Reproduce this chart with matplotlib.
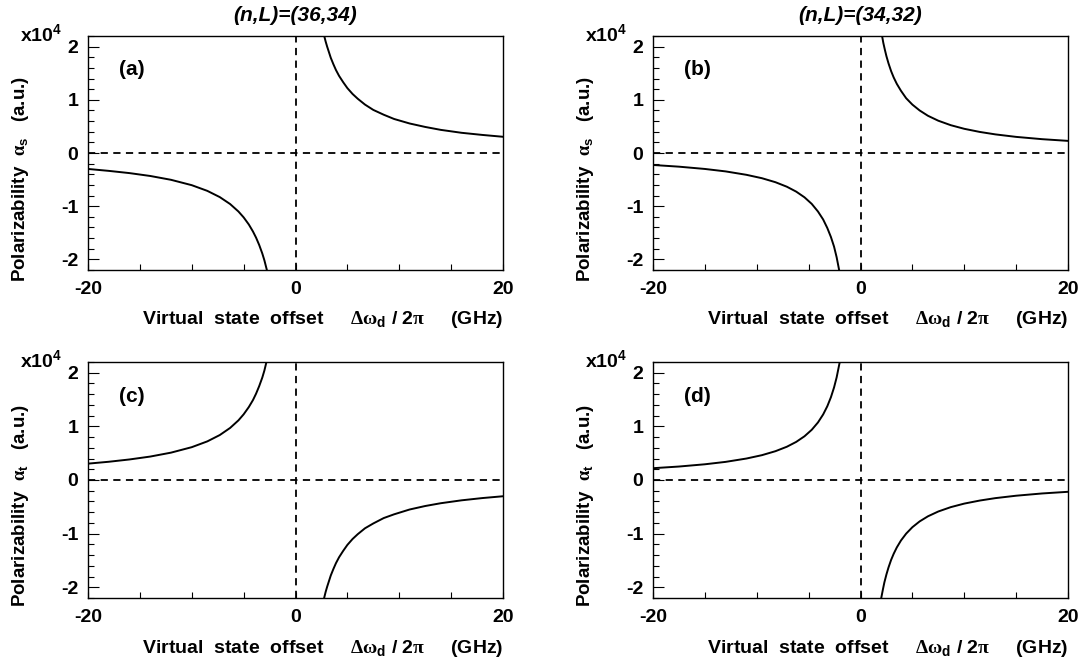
import matplotlib
matplotlib.use('Agg')
import matplotlib.pyplot as plt
from matplotlib.ticker import MultipleLocator

plt.rcParams['font.family'] = 'Liberation Sans'
plt.rcParams['font.weight'] = 'bold'
plt.rcParams['mathtext.fontset'] = 'custom'
plt.rcParams['mathtext.rm'] = 'Liberation Serif'
plt.rcParams['mathtext.bf'] = 'Liberation Sans:bold'

# valores (unidades de 1e4 a.u., GHz)
# (a) alpha_s, (n,L)=(36,34)
xa_pos = [2.77, 2.9, 3.05, 3.2, 3.4, 3.65, 3.9, 4.2, 4.6, 5.0, 5.5, 6.0, 6.7, 7.5,
          8.5, 9.5, 11.0, 12.5, 14.0, 16.0, 18.0, 20.0]
ya_pos = [2.20, 2.10, 2.00, 1.91, 1.79, 1.67, 1.56, 1.45, 1.33, 1.22, 1.11, 1.02, 0.91, 0.81,
          0.72, 0.64, 0.555, 0.49, 0.435, 0.38, 0.34, 0.305]
xa_neg = [-20.0, -18.0, -16.0, -14.0, -12.0, -10.0, -8.5, -7.3, -6.3, -5.5, -5.0, -4.5,
          -4.1, -3.8, -3.5, -3.2, -3.0, -2.76]
ya_neg = [-0.30, -0.336, -0.378, -0.432, -0.504, -0.605, -0.712, -0.829, -0.96, -1.10, -1.21, -1.344,
          -1.476, -1.592, -1.729, -1.89, -2.017, -2.20]

# (b) alpha_s, (n,L)=(34,32)
xb_pos = [2.08, 2.2, 2.35, 2.5, 2.7, 2.95, 3.2, 3.5, 3.9, 4.4, 5.0, 5.7, 6.5, 7.5,
          8.7, 10.0, 11.5, 13.0, 15.0, 17.5, 20.0]
yb_pos = [2.20, 2.07, 1.94, 1.82, 1.685, 1.54, 1.42, 1.30, 1.17, 1.03, 0.91, 0.80, 0.70, 0.607,
          0.523, 0.455, 0.396, 0.35, 0.303, 0.26, 0.228]
xb_neg = [-20.0, -17.5, -15.0, -13.0, -11.0, -9.5, -8.2, -7.1, -6.2, -5.4, -4.7, -4.1,
          -3.6, -3.2, -2.85, -2.55, -2.3, -2.06]
yb_neg = [-0.225, -0.257, -0.30, -0.346, -0.41, -0.474, -0.549, -0.634, -0.726, -0.833, -0.957, -1.10,
          -1.25, -1.41, -1.58, -1.76, -1.96, -2.20]

# (c) alpha_t, (n,L)=(36,34)
xc_neg = [-20.0, -18.0, -16.0, -14.0, -12.0, -10.0, -8.5, -7.3, -6.3, -5.5, -5.0, -4.5,
          -4.1, -3.8, -3.5, -3.2, -3.0, -2.8]
yc_neg = [0.305, 0.34, 0.383, 0.437, 0.51, 0.612, 0.72, 0.838, 0.971, 1.112, 1.224, 1.36,
          1.49, 1.61, 1.75, 1.91, 2.04, 2.20]
xc_pos = [2.76, 2.9, 3.05, 3.2, 3.4, 3.65, 3.9, 4.2, 4.6, 5.0, 5.5, 6.0, 6.7, 7.5,
          8.5, 9.5, 11.0, 12.5, 14.0, 16.0, 18.0, 20.0]
yc_pos = [-2.20, -2.09, -1.99, -1.90, -1.78, -1.66, -1.55, -1.44, -1.32, -1.21, -1.10, -1.01, -0.90, -0.81,
          -0.71, -0.64, -0.55, -0.485, -0.433, -0.379, -0.337, -0.303]

# (d) alpha_t, (n,L)=(34,32)
xd_neg = [-20.0, -17.5, -15.0, -13.0, -11.0, -9.5, -8.2, -7.1, -6.2, -5.4, -4.7, -4.1,
          -3.6, -3.2, -2.85, -2.55, -2.3, -2.0]
yd_neg = [0.22, 0.251, 0.293, 0.338, 0.40, 0.463, 0.537, 0.62, 0.71, 0.815, 0.936, 1.073,
          1.222, 1.375, 1.544, 1.725, 1.913, 2.20]
xd_pos = [2.0, 2.15, 2.3, 2.5, 2.7, 2.95, 3.2, 3.5, 3.9, 4.4, 5.0, 5.7, 6.5, 7.5,
          8.7, 10.0, 11.5, 13.0, 15.0, 17.5, 20.0]
yd_pos = [-2.20, -2.05, -1.91, -1.76, -1.63, -1.49, -1.375, -1.257, -1.128, -1.0, -0.88, -0.772, -0.677, -0.587,
          -0.506, -0.44, -0.383, -0.338, -0.293, -0.251, -0.22]

titulos = ['(n,L)=(36,34)', '(n,L)=(34,32)']
letras = ['(a)', '(b)', '(c)', '(d)']
ylabels = [r'Polarizability  $\mathrm{\alpha}_{\mathbf{s}}$   (a.u.)',
           r'Polarizability  $\mathrm{\alpha}_{\mathbf{s}}$   (a.u.)',
           r'Polarizability  $\mathrm{\alpha}_{\mathbf{t}}$   (a.u.)',
           r'Polarizability  $\mathrm{\alpha}_{\mathbf{t}}$   (a.u.)']
xlabel = r'Virtual  state  offset     $\mathrm{\Delta\omega}_{\mathbf{d}}$ / 2$\mathrm{\pi}$     (GHz)'
xticks = [-20, 0, 20]
yticks = [-2, -1, 0, 1, 2]

curvas = [[(xa_neg, ya_neg), (xa_pos, ya_pos)],
          [(xb_neg, yb_neg), (xb_pos, yb_pos)],
          [(xc_neg, yc_neg), (xc_pos, yc_pos)],
          [(xd_neg, yd_neg), (xd_pos, yd_pos)]]

W, H = 1087, 667
fig = plt.figure(figsize=(W / 100, H / 100), dpi=100)

# posicoes em pixels: (esquerda, topo, largura, altura)
caixas = [(88, 36, 415, 234), (653, 36, 415, 234),
          (88, 362, 415, 236), (653, 362, 415, 236)]

for i, (l, t, w, h) in enumerate(caixas):
    ax = fig.add_axes([l / W, (H - t - h) / H, w / W, h / H])
    for xs, ys in curvas[i]:
        ax.plot(xs, ys, color='black', lw=1.4)
    ax.axhline(0, color='black', lw=1.3, ls=(0, (4, 3)))
    ax.axvline(0, color='black', lw=1.3, ls=(0, (4, 3)))
    ax.set_xlim(-20, 20)
    ax.set_ylim(-2.2, 2.2)
    ax.xaxis.set_minor_locator(MultipleLocator(5))
    ax.yaxis.set_minor_locator(MultipleLocator(0.2))
    ax.set_xticks(xticks)
    ax.set_xticklabels([str(v) for v in xticks])
    ax.set_yticks(yticks)
    ax.set_yticklabels([str(v) for v in yticks])
    ax.tick_params(which='both', direction='in', top=False, right=False,
                   width=0.8, labelsize=14)
    ax.tick_params(axis='y', which='major', length=8, pad=7)
    ax.tick_params(axis='y', which='minor', length=4)
    ax.tick_params(axis='x', which='both', length=4.5, pad=8)
    for s in ax.spines.values():
        s.set_linewidth(1.0)

    ax.text(-0.062, 0.974, r'x10$^{\mathbf{4}}$', transform=ax.transAxes,
            ha='right', va='baseline', fontsize=14, fontweight='bold')
    ax.text(0.075, 0.855, letras[i], transform=ax.transAxes,
            ha='left', va='center', fontsize=15, fontweight='bold')
    ax.text(1.0, -0.231, xlabel, transform=ax.transAxes,
            ha='right', va='baseline', fontsize=14, fontweight='bold')
    ax.text(-0.163, 0.39, ylabels[i], transform=ax.transAxes, rotation=90,
            ha='center', va='center', fontsize=13.5, fontweight='bold')
    if i < 2:
        ax.set_title(titulos[i], fontsize=15, fontweight='bold', style='italic', pad=11)

fig.savefig('out.png', dpi=100)
